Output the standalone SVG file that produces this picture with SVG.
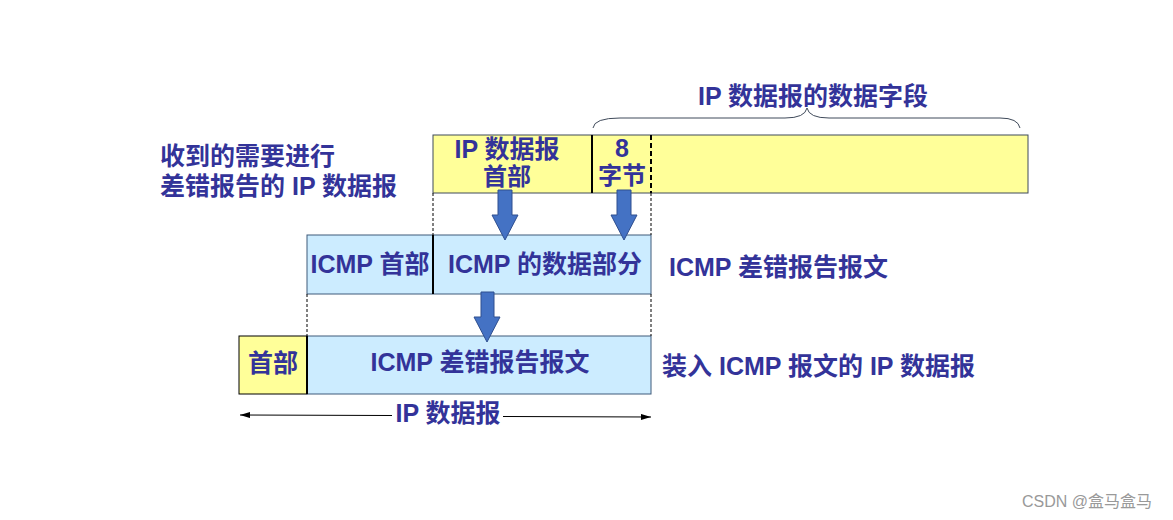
<svg xmlns="http://www.w3.org/2000/svg" width="1173" height="520" viewBox="0 0 1173 520">
<style>
.t{font-family:"Liberation Sans","Noto Sans CJK SC",sans-serif;font-weight:bold;font-size:25px;fill:#333399}
.c{text-anchor:middle}
.y{fill:#FFFF99;stroke:#3F4A5A;stroke-width:1}
.b{fill:#CCECFF;stroke:#3F5A7A;stroke-width:1}
.d{stroke:#000;stroke-width:1;stroke-dasharray:3,2;fill:none}
.s{stroke:#000;stroke-width:2;fill:none}
.a{fill:#4472C4;stroke:#2F4F8F;stroke-width:1}
</style>
<defs>
<marker id="ah" viewBox="0 0 10 6" refX="10" refY="3" markerWidth="10" markerHeight="6" markerUnits="userSpaceOnUse" orient="auto">
<path d="M0,0 L10,3 L0,6 Z" fill="#000"/>
</marker>
</defs>
<rect width="1173" height="520" fill="#fff"/>
<g id="label-received">
<text class="t" x="160" y="165">收到的需要进行</text>
<text class="t" x="160" y="195">差错报告的 IP 数据报</text>
</g>
<g id="brace-label">
<text class="t c" x="813" y="105">IP 数据报的数据字段</text>
<path d="M593,128 Q594,118 620,118 L785,118 Q805,118 807,108 Q809,118 829,118 L1000,118 Q1018,118 1020,128" fill="none" stroke="#3F4A5A" stroke-width="1"/>
</g>
<g id="ip-datagram">
<rect class="y" x="433" y="135" width="595" height="58"/>
<line class="s" x1="592" y1="135" x2="592" y2="193"/>
<line class="d" x1="651" y1="135" x2="651" y2="193" style="stroke-width:2;stroke-dasharray:5,3"/>
<text class="t c" x="507" y="158">IP 数据报</text>
<text class="t c" x="507" y="185" style="font-size:24px">首部</text>
<text class="t c" x="622" y="157">8</text>
<text class="t c" x="622" y="184" style="font-size:24px">字节</text>
</g>
<g id="icmp-message">
<rect class="b" x="307" y="235" width="344" height="59"/>
<line class="s" x1="433" y1="235" x2="433" y2="294"/>
<text class="t c" x="370" y="273">ICMP 首部</text>
<text class="t c" x="545" y="273">ICMP 的数据部分</text>
</g>
<g id="label-icmp">
<text class="t" x="669" y="276">ICMP 差错报告报文</text>
</g>
<g id="ip-with-icmp">
<rect class="y" x="239" y="336" width="68" height="58" style="stroke:#000"/>
<rect class="b" x="307" y="336" width="344" height="58"/>
<line class="s" x1="307" y1="336" x2="307" y2="394"/>
<text class="t c" x="273" y="372">首部</text>
<text class="t c" x="480" y="371">ICMP 差错报告报文</text>
</g>
<g id="label-ip">
<text class="t" x="662" y="375">装入 ICMP 报文的 IP 数据报</text>
</g>
<g id="connectors">
<line class="d" x1="433" y1="193" x2="433" y2="235"/>
<line class="d" x1="651" y1="193" x2="651" y2="235"/>
<line class="d" x1="307" y1="294" x2="307" y2="336"/>
<line class="d" x1="651" y1="294" x2="651" y2="336"/>
<path class="a" d="M498,190 L512,190 L512,215 L518,215 L505,240 L492,215 L498,215 Z"/>
<path class="a" d="M617,190 L631,190 L631,215 L637,215 L624,240 L611,215 L617,215 Z"/>
<path class="a" d="M481,292 L494,292 L494,317 L500,317 L487,342 L474,317 L481,317 Z"/>
<line x1="392" y1="415.5" x2="240" y2="415" stroke="#000" stroke-width="1" marker-end="url(#ah)"/>
<line x1="503" y1="416.5" x2="651" y2="417" stroke="#000" stroke-width="1" marker-end="url(#ah)"/>
<text class="t c" x="448" y="422">IP 数据报</text>
</g>
<text x="1022" y="507" font-family="Liberation Sans,Noto Sans CJK SC,sans-serif" font-size="16" fill="#999">CSDN @盒马盒马</text>
</svg>
